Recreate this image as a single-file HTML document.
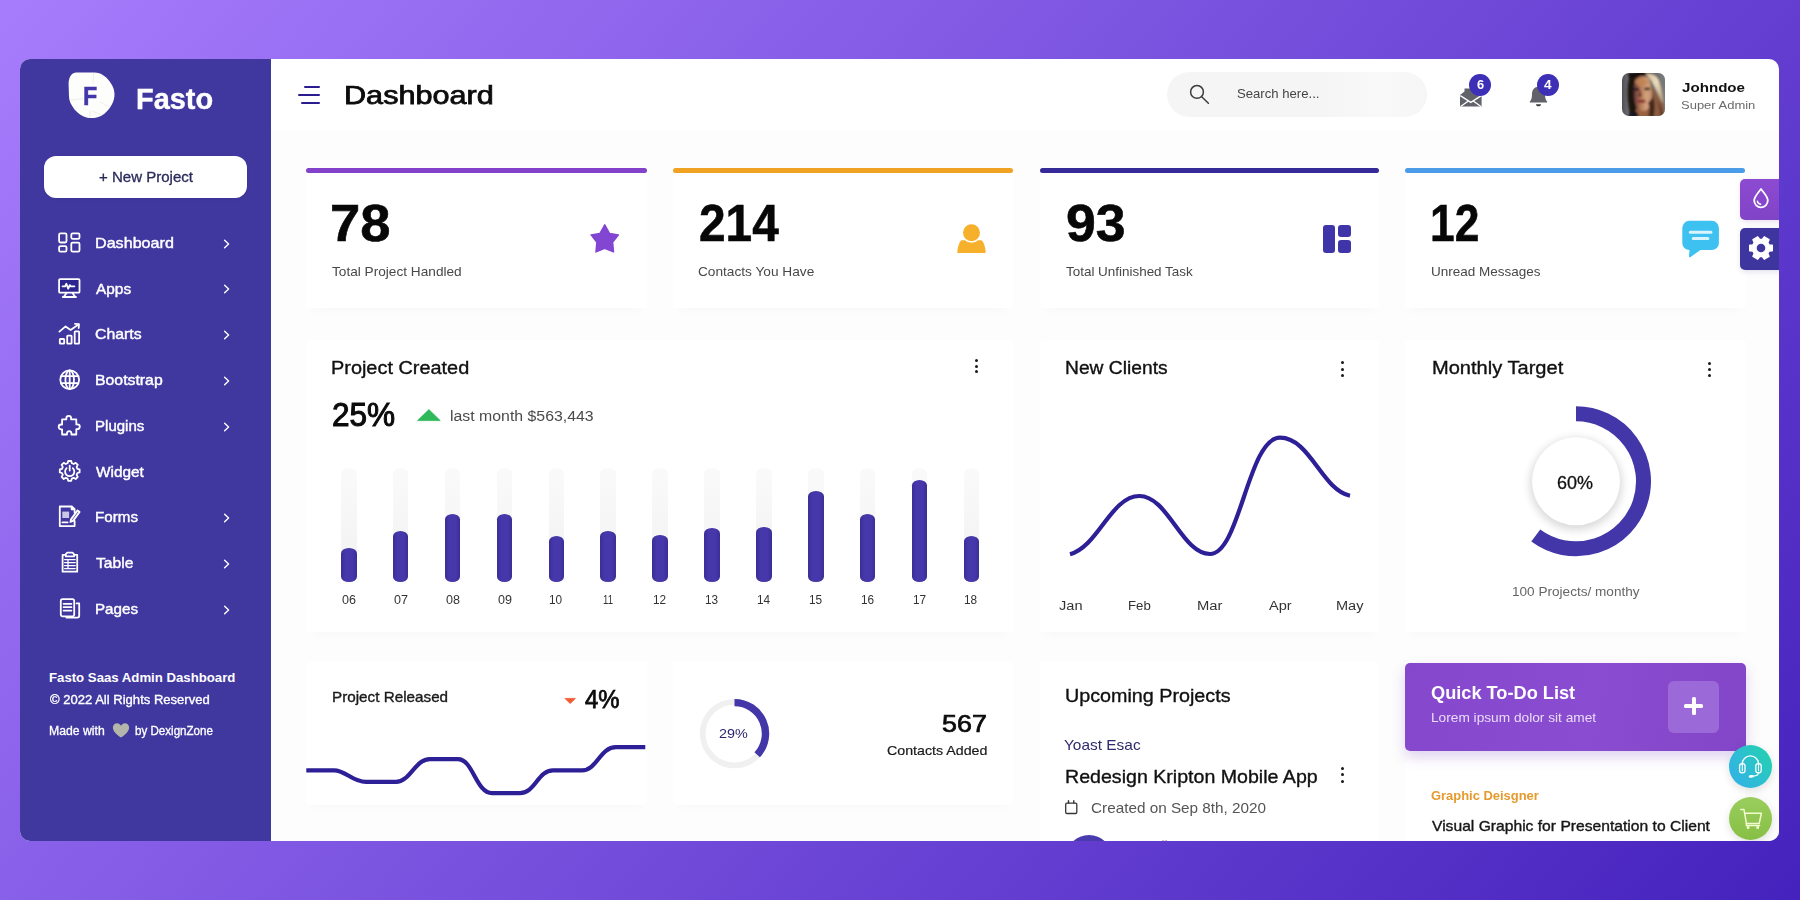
<!DOCTYPE html>
<html lang="en">
<head>
<meta charset="utf-8">
<title>Fasto - Dashboard</title>
<style>
*{margin:0;padding:0;box-sizing:border-box}
html,body{width:1800px;height:900px;overflow:hidden}
body{position:relative;font-family:"Liberation Sans",sans-serif;background:linear-gradient(132deg,#a77cfc 0%,#4522bd 100%)}
#win{position:absolute;left:20px;top:59px;width:1759px;height:782px;border-radius:10px;overflow:hidden;background:#fff}
#in{position:absolute;left:-20px;top:-59px;width:1800px;height:900px}
#in div,#in span,#in svg{position:absolute}
.t{white-space:nowrap;line-height:1;transform-origin:0 0;font-family:"Liberation Sans",sans-serif}
#side{left:20px;top:59px;width:250.5px;height:782px;background:#40389f}
.ico{fill:none;stroke:#fff;stroke-width:1.8;stroke-linecap:round;stroke-linejoin:round}
.chev{fill:none;stroke:#fff;stroke-width:1.4;stroke-linecap:round;stroke-linejoin:round}
.dots i{position:absolute;left:0;width:3px;height:3px;border-radius:50%;background:#1a1a1a}
.bar{border-radius:3px;height:5.4px;top:168.1px}
.trk{width:15.6px;border-radius:7.8px/5.5px;background:linear-gradient(180deg,#fafafa,#f1f1f1)}
.bv{width:15.6px;border-radius:7.8px/5.5px;background:linear-gradient(90deg,#3a2e98 0%,#4638aa 30%,#4638aa 70%,#3a2e98 100%)}
</style>
</head>
<body>
<div id="win">
<div id="in">
<!-- ===== sidebar ===== -->
<div style="left:270.5px;top:131px;width:1510px;height:712px;background:#fdfdfd"></div>
<div id="side"></div>
<svg style="left:66px;top:70px" width="52" height="52" viewBox="0 0 52 52">
  <path d="M9.9 2.6 L28.5 2.6 C35 2.6 41.5 7.5 45 13.6 C47.5 17.5 48.5 21 48.5 24.6 C48.5 31 45 38.5 38.1 43.9 C34 47 29.5 48.1 25 48.1 C19 48.1 13 44.5 8.5 39.5 C5 35 3.1 30.8 3 27.1 L2.6 14.7 C2.5 8.5 4.6 3.1 9.9 2.6 Z" fill="#fdfdfb"/>
  <path d="M27.8 3 C28 8 26.6 11 27.2 14.5 M5 30 C9 30 13 28.4 17.5 28.8 M34 31.8 C37 33.5 40.5 36.5 43.5 37 M24.4 40.8 C24.2 44 23.4 46 23.2 48 M26.5 41.5 C30 42.4 33 43.6 35.5 44.8" fill="none" stroke="#e9e8e3" stroke-width="0.8"/>
</svg>
<div style="left:43.8px;top:156.3px;width:203.6px;height:41.6px;border-radius:12px;background:#fff;box-shadow:0 1px 3px rgba(20,10,80,.12)"></div>

<!-- nav icons -->
<svg class="ico" style="left:56px;top:230px" width="27" height="25" viewBox="56 230 27 25">
  <rect x="59.1" y="233.3" width="7.4" height="9.2" rx="1.4"/><rect x="71.3" y="233.3" width="8.2" height="5.6" rx="1.4"/>
  <rect x="59.1" y="246.1" width="7.4" height="5.6" rx="1.4"/><rect x="71.3" y="242.6" width="8.2" height="9.1" rx="1.4"/>
</svg>
<svg class="ico" style="left:56px;top:275px" width="27" height="26" viewBox="56 275 27 26">
  <rect x="59.1" y="279.1" width="20.4" height="13.6" rx="1" fill="#2d2690"/>
  <path d="M62.5 286.3 h2.6 l1.3 -2.6 l1.8 5 l1.6 -3.6 l1 1.2 h3.6"/>
  <path d="M66.5 293 l-2.6 3.8 M72.5 293 l2.6 3.8 M62.8 297 h13.2"/>
</svg>
<svg class="ico" style="left:56px;top:320px" width="27" height="27" viewBox="56 320 27 27">
  <rect x="59.8" y="339" width="4.4" height="4.6" rx=".6"/><rect x="67.2" y="335.6" width="4.4" height="8" rx=".6"/><rect x="74.7" y="331.3" width="4.4" height="12.3" rx=".6"/>
  <path d="M59.4 331.6 L65.6 326.4 L70.6 329.9 L78.8 324.3 M75 323.9 L79 324.1 L78.7 328"/>
</svg>
<svg class="ico" style="left:56px;top:366px" width="27" height="27" viewBox="56 366 27 27">
  <circle cx="69.7" cy="379.7" r="9.4"/><ellipse cx="69.7" cy="379.7" rx="4.3" ry="9.4"/>
  <path d="M61.4 376.2 h16.6 M61.4 383.2 h16.6 M69.7 370.3 v18.8"/>
</svg>
<svg class="ico" style="left:56px;top:412px" width="27" height="27" viewBox="56 412 27 27">
  <path d="M66.3 419.4 v-1.1 a2.4 2.4 0 1 1 4.8 0 v1.1 h5.2 v5 h1.1 a2.4 2.4 0 1 1 0 4.8 h-1.1 v5.3 h-4.9 v-1.2 a2.2 2.2 0 1 0 -4.4 0 v1.2 h-4.9 v-5.2 h-1 a2.4 2.4 0 1 1 0 -4.8 h1 v-5.1 z"/>
</svg>
<svg class="ico" style="left:56px;top:457px" width="28" height="28" viewBox="56 457 28 28">
  <path d="M68.2 461 h3 l.6 2.2 l1.9 .8 l2 -1.2 l2.1 2.1 l-1.2 2 l.8 1.9 l2.2 .6 v3 l-2.2 .6 l-.8 1.9 l1.2 2 l-2.1 2.1 l-2 -1.2 l-1.9 .8 l-.6 2.2 h-3 l-.6 -2.2 l-1.9 -.8 l-2 1.2 l-2.1 -2.1 l1.2 -2 l-.8 -1.9 l-2.2 -.6 v-3 l2.2 -.6 l.8 -1.9 l-1.2 -2 l2.1 -2.1 l2 1.2 l1.9 -.8 z"/>
  <path d="M66.6 468.2 a4.6 4.6 0 1 0 6.2 0 M69.7 465.6 v5"/>
</svg>
<svg class="ico" style="left:56px;top:503px" width="28" height="27" viewBox="56 503 28 27">
  <path d="M74.6 512.5 v-3.4 l-2.8 -2.6 h-12 v19.6 h14.8 v-5.2 M71.6 506.7 v2.6 h2.8"/>
  <rect x="62.3" y="511.6" width="6.8" height="6.4" fill="#c9c7e6" stroke="none"/>
  <path d="M62.4 522.4 h5.2 M71 519.4 l6.6 -9 l2 1.5 l-6.6 9 l-2.6 1 z"/>
</svg>
<svg class="ico" style="left:58px;top:549px" width="24" height="27" viewBox="58 549 24 27">
  <path d="M65.8 554.8 h-3.2 v16.9 h14.6 v-16.9 h-3.2 M65.8 556.4 v-2.2 l1.5 -1.5 h5.2 l1.5 1.5 v2.2 z" />
  <path d="M64.6 559.6 h10.6 M64.6 562.6 h10.6 M64.6 565.6 h10.6 M64.6 568.6 h10.6 M68 559.6 v9" stroke-width="1.3"/>
</svg>
<svg class="ico" style="left:57px;top:595px" width="26" height="26" viewBox="57 595 26 26">
  <path d="M62.6 599.2 h9.8 a1.8 1.8 0 0 1 1.8 1.8 v13.6 a1.8 1.8 0 0 1 -1.8 1.8 h-9.8 a1.8 1.8 0 0 1 -1.8 -1.8 v-13.6 a1.8 1.8 0 0 1 1.8 -1.8 z"/>
  <path d="M63.6 603.8 h7.8 M63.6 607.2 h7.8 M63.6 610.6 h7.8" />
  <path d="M76.6 603.4 h2.6 v12.4 a1.8 1.8 0 0 1 -1.8 1.8 h-11"/>
</svg>
<!-- heart -->
<svg style="left:112px;top:722px" width="18" height="17" viewBox="0 0 18 17"><path d="M9 15.6 C3.2 11.4 .9 8.4 .9 5.4 C.9 2.9 2.8 1.2 5 1.2 C6.7 1.2 8.1 2.2 9 3.7 C9.9 2.2 11.3 1.2 13 1.2 C15.2 1.2 17.1 2.9 17.1 5.4 C17.1 8.4 14.8 11.4 9 15.6 Z" fill="#b4b6ab"/></svg>
<svg class="chev" style="left:220px;top:236.70px" width="14" height="14" viewBox="0 0 14 14"><path d="M4.6 3.3 L8.6 7 L4.6 10.7"/></svg>
<svg class="chev" style="left:220px;top:282.45px" width="14" height="14" viewBox="0 0 14 14"><path d="M4.6 3.3 L8.6 7 L4.6 10.7"/></svg>
<svg class="chev" style="left:220px;top:328.20px" width="14" height="14" viewBox="0 0 14 14"><path d="M4.6 3.3 L8.6 7 L4.6 10.7"/></svg>
<svg class="chev" style="left:220px;top:373.95px" width="14" height="14" viewBox="0 0 14 14"><path d="M4.6 3.3 L8.6 7 L4.6 10.7"/></svg>
<svg class="chev" style="left:220px;top:419.70px" width="14" height="14" viewBox="0 0 14 14"><path d="M4.6 3.3 L8.6 7 L4.6 10.7"/></svg>
<svg class="chev" style="left:220px;top:511.20px" width="14" height="14" viewBox="0 0 14 14"><path d="M4.6 3.3 L8.6 7 L4.6 10.7"/></svg>
<svg class="chev" style="left:220px;top:556.95px" width="14" height="14" viewBox="0 0 14 14"><path d="M4.6 3.3 L8.6 7 L4.6 10.7"/></svg>
<svg class="chev" style="left:220px;top:602.70px" width="14" height="14" viewBox="0 0 14 14"><path d="M4.6 3.3 L8.6 7 L4.6 10.7"/></svg>
<!-- ===== header ===== -->
<div style="left:303.7px;top:86.3px;width:16.3px;height:2.1px;background:#2a1c8e;border-radius:1px"></div>
<div style="left:298px;top:94.2px;width:22px;height:2.1px;background:#2a1c8e;border-radius:1px"></div>
<div style="left:301px;top:102px;width:19px;height:2.1px;background:#2a1c8e;border-radius:1px"></div>
<div style="left:1166.7px;top:71.7px;width:260px;height:45.8px;border-radius:23px;background:linear-gradient(90deg,#f5f5f5 0%,#f5f5f5 62%,#f9f9f9 82%,#f6f6f6 100%)"></div>
<svg style="left:1186px;top:81px" width="28" height="28" viewBox="1186 81 28 28"><circle cx="1197" cy="91.9" r="6.4" fill="none" stroke="#3c3c3c" stroke-width="1.5"/><path d="M1201.7 96.8 L1208.4 103.2" stroke="#3c3c3c" stroke-width="1.5" stroke-linecap="round"/></svg>
<!-- envelope -->
<svg style="left:1456px;top:84px" width="30" height="26" viewBox="1456 84 30 26">
  <path d="M1460 95 L1464.5 91.6 V88.6 H1477 V91.6 L1481.6 95 V106.4 H1460 Z" fill="#62626a"/>
  <path d="M1460.3 95.6 L1470.8 102.4 L1481.3 95.6" fill="none" stroke="#fff" stroke-width="1.3"/>
  <path d="M1460.6 106.6 L1468.4 100.9 M1481 106.6 L1473.2 100.9" fill="none" stroke="#fff" stroke-width="1.3"/>
</svg>
<!-- bell -->
<svg style="left:1526px;top:84px" width="26" height="26" viewBox="1526 84 26 26">
  <path d="M1538.5 86.8 C1534.3 86.8 1532 90 1532 94.2 C1532 98.2 1531.2 100 1529.8 101.6 V102.4 H1547.2 V101.6 C1545.8 100 1545 98.2 1545 94.2 C1545 90 1542.7 86.8 1538.5 86.8 Z" fill="#62626a"/>
  <path d="M1536 104.2 H1541 C1541 105.5 1539.9 106.3 1538.5 106.3 C1537.1 106.3 1536 105.5 1536 104.2 Z" fill="#3a3a40"/>
</svg>
<div style="left:1469.3px;top:74.1px;width:21.8px;height:21.8px;border-radius:50%;background:#3d2fb6"></div>
<div style="left:1537.1px;top:74.1px;width:21.8px;height:21.8px;border-radius:50%;background:#3d2fb6"></div>
<!-- avatar -->
<svg style="left:1621.8px;top:72.7px" width="43" height="43" viewBox="0 0 43 43">
  <defs>
    <clipPath id="avc"><rect x="0" y="0" width="43" height="43" rx="7"/></clipPath>
    <linearGradient id="avbg" x1="0" x2="1" y1="0" y2="0"><stop offset="0" stop-color="#505056"/><stop offset=".14" stop-color="#6b6b71"/><stop offset=".3" stop-color="#4a4a50"/><stop offset="1" stop-color="#7a7a7a"/></linearGradient>
    <linearGradient id="avface" x1="0" x2="1" y1="0" y2="0"><stop offset="0" stop-color="#5c3238"/><stop offset=".38" stop-color="#b67a56"/><stop offset=".7" stop-color="#d3a27e"/><stop offset="1" stop-color="#c4906c"/></linearGradient>
    <linearGradient id="avblonde" x1="0" x2="1" y1="0" y2="1"><stop offset="0" stop-color="#d9c09a"/><stop offset=".45" stop-color="#eadbbb"/><stop offset="1" stop-color="#b89872"/></linearGradient>
    <filter id="avb" x="-20%" y="-20%" width="140%" height="140%"><feGaussianBlur stdDeviation="1.15"/></filter>
  </defs>
  <g clip-path="url(#avc)">
    <rect width="43" height="43" fill="url(#avbg)"/>
    <g filter="url(#avb)">
      <path d="M37 -1 L44 -1 L44 24 C42 14 40 6 37 -1 Z" fill="#787878"/>
      <path d="M9 44 C5.5 32 4.5 14 7.5 3 C9 -1 16 -2 24 -1 L27 2 C19 4 15 8 14 16 C13 26 14 36 17 44 Z" fill="#1c1210"/>
      <path d="M12.6 8 C14 3 22 2 26.5 5 C29.5 10 30.5 20 29.5 28 C28.5 34 25.5 38 21 38.6 C16 38.6 13 33 12.2 26 C11.6 20 11.6 12 12.6 8 Z" fill="url(#avface)"/>
      <ellipse cx="19.5" cy="9" rx="6.5" ry="4" fill="#c08454" opacity=".8"/>
      <path d="M6 0 H30 V2.2 C22 1.6 14 2.4 7 4.4 Z" fill="#140c0a"/>
      <ellipse cx="14.8" cy="16.4" rx="2.8" ry="1.4" fill="#2b1524"/>
      <ellipse cx="25.2" cy="15.9" rx="3.1" ry="1.3" fill="#3a2515"/>
      <path d="M18.2 16.5 L19.8 23.6 L16.2 23.8 Z" fill="#5c3028"/>
      <ellipse cx="19.6" cy="28.3" rx="4.3" ry="1.7" fill="#8b3039"/>
      <path d="M14 35.5 C18 39 24 39 27.5 34.5 L30 44 L13 44 Z" fill="#99623f"/>
      <path d="M23 .8 C29 -.2 35 2 37.2 8 C40 16 41.2 24 41.4 31 C38 26 35 18 31 11 C29 7 26 3 23 .8 Z" fill="url(#avblonde)"/>
      <path d="M26 30 C28 34 27 40 26 44 L33 44 L31 24 Z" fill="#4a2a1e"/>
      <path d="M29.2 11.5 C33 18 37 26 41.4 31 L43 44 L27 44 C30 38 31.2 30 30.4 22 C30 18 29.6 15 29.2 11.5 Z" fill="#8b5b41"/>
      <path d="M30.4 21 C33 28 33 36 31.4 44 L28 44 C30 36 31 28 30.4 21 Z" fill="#3a2018"/>
      <path d="M35 27 C37.5 33 38.5 38 38.5 44 L41.5 44 C41 38 39 32 35 27 Z" fill="#5a3424"/>
      <path d="M6 44 C8 38.5 12.5 37.5 15.5 39.5 L16.5 44 Z" fill="#15131d"/>
    </g>
  </g>
</svg>
<!-- ===== stat cards ===== -->
<div style="left:306px;top:168px;width:341px;height:140px;border-radius:4px;background:#fff;box-shadow:0 9px 10px -6px rgba(0,0,0,.022)"></div>
<div style="left:673px;top:168px;width:340px;height:140px;border-radius:4px;background:#fff;box-shadow:0 9px 10px -6px rgba(0,0,0,.022)"></div>
<div style="left:1040px;top:168px;width:339px;height:140px;border-radius:4px;background:#fff;box-shadow:0 9px 10px -6px rgba(0,0,0,.022)"></div>
<div style="left:1405px;top:168px;width:341px;height:140px;border-radius:4px;background:#fff;box-shadow:0 9px 10px -6px rgba(0,0,0,.022)"></div>
<div class="bar" style="left:305.8px;width:341px;background:#8242c9"></div>
<div class="bar" style="left:672.7px;width:340.6px;background:#f0a223"></div>
<div class="bar" style="left:1039.6px;width:339.2px;background:#352a98"></div>
<div class="bar" style="left:1405.3px;width:340.2px;background:#4a9be8"></div>
<!-- star -->
<svg style="left:588px;top:221px" width="34" height="35" viewBox="588 221 34 35"><path d="M604.75 224.9 L609.6 233.5 L618.4 234.9 L612.6 242.3 L613.5 251.9 L604.75 248.4 L596 251.9 L596.9 242.3 L591.1 234.9 L599.9 233.5 Z" fill="#8246d2" stroke="#8246d2" stroke-width="1.5" stroke-linejoin="round"/></svg>
<!-- person -->
<svg style="left:954px;top:222px" width="36" height="34" viewBox="954 222 36 34">
  <path d="M958.4 253.1 Q957.1 253.1 957.3 251.8 C957.9 246.4 959 242.6 961.3 240.2 H981.7 C984 242.6 985.1 246.4 985.7 251.8 Q985.9 253.1 984.6 253.1 Z" fill="#f6b02c"/>
  <circle cx="971.5" cy="232.7" r="10.1" fill="#fff"/><circle cx="971.5" cy="232.7" r="8.5" fill="#f6b02c"/>
</svg>
<!-- grid icon -->
<div style="left:1323.3px;top:224.7px;width:11.9px;height:28px;border-radius:3px;background:#4035a8"></div>
<div style="left:1338.4px;top:224.7px;width:13.1px;height:12.8px;border-radius:3px;background:#4035a8"></div>
<div style="left:1338.4px;top:239.9px;width:13.1px;height:12.8px;border-radius:3px;background:#4035a8"></div>
<!-- chat -->
<svg style="left:1680px;top:219px" width="42" height="42" viewBox="1680 219 42 42">
  <path d="M1689.4 220.8 H1711.8 A7.1 7.1 0 0 1 1718.9 227.9 V243 A7.1 7.1 0 0 1 1711.8 250.1 H1700.4 L1690.6 256.9 C1689.7 257.5 1688.9 257 1689 256 L1689.5 250.1 H1689.4 A7.1 7.1 0 0 1 1682.3 243 V227.9 A7.1 7.1 0 0 1 1689.4 220.8 Z" fill="#3dc1f1"/>
  <path d="M1690.2 232.3 H1711 M1693.2 238.6 H1707.9" stroke="#d9f4fd" stroke-width="3" stroke-linecap="round"/>
</svg>
<!-- ===== middle row ===== -->
<div style="left:306px;top:340px;width:708px;height:292px;border-radius:4px;background:#fff;box-shadow:0 9px 10px -6px rgba(0,0,0,.022)"></div>
<div style="left:1040px;top:340px;width:339px;height:292px;border-radius:4px;background:#fff;box-shadow:0 9px 10px -6px rgba(0,0,0,.022)"></div>
<div style="left:1405px;top:340px;width:341px;height:292px;border-radius:4px;background:#fff;box-shadow:0 9px 10px -6px rgba(0,0,0,.022)"></div>
<div class="dots" style="left:975.3px;top:358.7px"><i style="top:0"></i><i style="top:5.9px"></i><i style="top:11.8px"></i></div>
<div class="dots" style="left:1340.6px;top:361.3px"><i style="top:0"></i><i style="top:6.3px"></i><i style="top:12.6px"></i></div>
<div class="dots" style="left:1707.8px;top:361.6px"><i style="top:0"></i><i style="top:6.3px"></i><i style="top:12.6px"></i></div>
<svg style="left:415px;top:407px" width="28" height="16" viewBox="415 407 28 16"><path d="M417.6 420.6 L428.9 409.6 L440.2 420.6 Z" fill="#2fb95a" stroke="#2fb95a" stroke-width=".8" stroke-linejoin="round"/></svg>
<div class="trk" style="left:341.00px;top:467.6px;height:114.0px"></div><div class="bv" style="left:341.00px;top:548px;height:33.6px"></div>
<div class="trk" style="left:392.88px;top:467.6px;height:114.0px"></div><div class="bv" style="left:392.88px;top:531px;height:50.6px"></div>
<div class="trk" style="left:444.76px;top:467.6px;height:114.0px"></div><div class="bv" style="left:444.76px;top:514px;height:67.6px"></div>
<div class="trk" style="left:496.64px;top:467.6px;height:114.0px"></div><div class="bv" style="left:496.64px;top:514px;height:67.6px"></div>
<div class="trk" style="left:548.52px;top:467.6px;height:114.0px"></div><div class="bv" style="left:548.52px;top:536.4px;height:45.2px"></div>
<div class="trk" style="left:600.40px;top:467.6px;height:114.0px"></div><div class="bv" style="left:600.40px;top:531px;height:50.6px"></div>
<div class="trk" style="left:652.28px;top:467.6px;height:114.0px"></div><div class="bv" style="left:652.28px;top:535.4px;height:46.2px"></div>
<div class="trk" style="left:704.16px;top:467.6px;height:114.0px"></div><div class="bv" style="left:704.16px;top:528.4px;height:53.2px"></div>
<div class="trk" style="left:756.04px;top:467.6px;height:114.0px"></div><div class="bv" style="left:756.04px;top:527.4px;height:54.2px"></div>
<div class="trk" style="left:807.92px;top:467.6px;height:114.0px"></div><div class="bv" style="left:807.92px;top:491px;height:90.6px"></div>
<div class="trk" style="left:859.80px;top:467.6px;height:114.0px"></div><div class="bv" style="left:859.80px;top:514px;height:67.6px"></div>
<div class="trk" style="left:911.68px;top:467.6px;height:114.0px"></div><div class="bv" style="left:911.68px;top:479.6px;height:102.0px"></div>
<div class="trk" style="left:963.56px;top:467.6px;height:114.0px"></div><div class="bv" style="left:963.56px;top:536.4px;height:45.2px"></div>
<!-- new clients curve -->
<svg style="left:1055px;top:420px" width="310" height="150" viewBox="1055 420 310 150">
  <path d="M1070 554.3 C1098 547 1111 496 1139.4 496 C1168 496 1182 554 1210 554 C1240 554 1248 437.7 1280 437.7 C1310 437.7 1322 490 1350 495.7" fill="none" stroke="#2d1f96" stroke-width="4.2" stroke-linecap="butt"/>
</svg>
<!-- monthly target donut -->
<svg style="left:1486px;top:391px" width="180" height="180" viewBox="1486 391 180 180">
  <defs><filter id="ds" x="-40%" y="-40%" width="180%" height="180%"><feGaussianBlur stdDeviation="4.2"/></filter></defs>
  <circle cx="1576" cy="484" r="46" fill="#000" opacity=".15" filter="url(#ds)"/>
  <circle cx="1576" cy="481.3" r="44" fill="#fff"/>
  <path d="M1576 413.8 A67.5 67.5 0 1 1 1535.76 535.5" fill="none" stroke="#4236a8" stroke-width="15"/>
</svg>
<!-- ===== bottom row ===== -->
<div style="left:306px;top:662px;width:341px;height:143px;border-radius:4px;background:#fff;box-shadow:0 9px 10px -6px rgba(0,0,0,.022)"></div>
<div style="left:673px;top:662px;width:340px;height:143px;border-radius:4px;background:#fff;box-shadow:0 9px 10px -6px rgba(0,0,0,.022)"></div>
<svg style="left:562px;top:696px" width="16" height="10" viewBox="562 696 16 10"><path d="M565 698.4 H575.4 L570.2 703.6 Z" fill="#f15b34" stroke="#f15b34" stroke-width=".8" stroke-linejoin="round"/></svg>
<svg style="left:300px;top:735px" width="352" height="70" viewBox="300 735 352 70">
  <path d="M306.3 770.3 H334 C346 770.3 352 781.9 366 781.9 H396 C410 781.9 415 759.1 430 759.1 H458 C473 759.1 476 793.1 492 793.1 H520 C535 793.1 538 770.3 553 770.3 H582 C597 770.3 600 747.1 616 747.1 H645.3" fill="none" stroke="#2d1f96" stroke-width="4.2" stroke-linejoin="round"/>
</svg>
<!-- 29% ring -->
<svg style="left:694px;top:693px" width="82" height="82" viewBox="694 693 82 82">
  <circle cx="734.5" cy="733.6" r="31.8" fill="none" stroke="#f0f0f0" stroke-width="5.8"/>
  <path d="M734.5 702.6 A31 31 0 0 1 757.17 754.74" fill="none" stroke="#4236a8" stroke-width="7.4"/>
</svg>
<!-- upcoming projects -->
<div style="left:1040px;top:662px;width:339px;height:200px;border-radius:4px;background:#fff"></div>
<div style="left:1405px;top:760px;width:341px;height:100px;border-radius:4px;background:#fff"></div>
<div class="dots" style="left:1340.9px;top:766.9px"><i style="top:0"></i><i style="top:6.5px"></i><i style="top:13px"></i></div>
<svg style="left:1063px;top:798px" width="18" height="19" viewBox="1063 798 18 19"><rect x="1065.7" y="803.1" width="11.1" height="10.4" rx="1.2" fill="none" stroke="#3a3434" stroke-width="1.3"/><path d="M1068.5 800.8 V803 M1073.8 800.8 V803" stroke="#3a3434" stroke-width="1.4" stroke-linecap="round"/></svg>
<div style="left:1066.3px;top:834.7px;width:46px;height:46px;border-radius:50%;background:linear-gradient(180deg,#4a3db0,#352a98)"></div>
<div style="left:1162px;top:839.8px;width:1.6px;height:2px;background:#c9b8c4;transform:skewX(-12deg)"></div>
<div style="left:1165.4px;top:839.8px;width:1.6px;height:2px;background:#c9b8c4;transform:skewX(-12deg)"></div>
<!-- todo card -->
<div style="left:1405px;top:662.9px;width:340.7px;height:88.2px;border-radius:5px;background:linear-gradient(100deg,#8548cc 0%,#8a4cd0 55%,#8446c8 100%);box-shadow:0 6px 14px rgba(110,60,190,.22)"></div>
<div style="left:1667.9px;top:681.1px;width:51.5px;height:51.6px;border-radius:6px;background:#9c69d9"></div>
<div style="left:1684.3px;top:703.7px;width:19.1px;height:4.4px;border-radius:1.5px;background:#fff"></div>
<div style="left:1691.65px;top:696.7px;width:4.4px;height:18.4px;border-radius:1.5px;background:#fff"></div>
<!-- floating buttons -->
<div style="left:1728.8px;top:745px;width:43.2px;height:43px;border-radius:50%;background:linear-gradient(55deg,#33aee9 0%,#2cc0d0 50%,#22d3a7 100%);box-shadow:0 3px 8px rgba(0,0,0,.12)"></div>
<svg style="left:1736px;top:753.4px" width="30" height="30" viewBox="1736 752 30 30" fill="none" stroke="#fff" stroke-width="1.3" stroke-linecap="round">
  <path d="M1742.2 764 V763 A8.2 8.2 0 0 1 1758.6 763 V764"/>
  <rect x="1739.6" y="762.6" width="5.4" height="9.2" rx="2.4"/><rect x="1755.8" y="762.6" width="5.4" height="9.2" rx="2.4"/>
  <path d="M1742.3 764.6 V769.8 M1758.5 764.6 V769.8" stroke-width="1.1"/>
  <path d="M1758.6 771.8 C1758.4 774 1756.4 775 1753.4 775.2"/><ellipse cx="1751.2" cy="775.4" rx="2.6" ry="1.4" fill="#fff" stroke="none" transform="rotate(-8 1751.2 775.4)"/>
</svg>
<div style="left:1728.8px;top:797px;width:43.2px;height:43px;border-radius:50%;background:linear-gradient(180deg,#9acd5e,#86bf45);box-shadow:0 3px 8px rgba(0,0,0,.12)"></div>
<svg style="left:1736.6px;top:806.2px" width="30" height="28" viewBox="1736 805 30 28" fill="none" stroke="#f4fbd0" stroke-width="1.5" stroke-linecap="round" stroke-linejoin="round">
  <path d="M1739.8 808.6 H1743 L1745.4 822.4 H1758.2 L1760.4 812.2 H1744"/>
  <path d="M1745.4 822.4 V824.6 H1758.6"/><rect x="1745.8" y="825.2" width="2.6" height="2.6" fill="#f4fbd0" stroke="none"/><rect x="1755.4" y="825.2" width="2.6" height="2.6" fill="#f4fbd0" stroke="none"/>
</svg>
<!-- right side tabs -->
<div style="left:1739.7px;top:178.5px;width:42px;height:41.7px;border-radius:5px 0 0 5px;background:linear-gradient(180deg,#8d4ad2,#8044c6);box-shadow:0 2px 5px rgba(90,40,160,.12)"></div>
<svg style="left:1749.9px;top:186.2px" width="22" height="24" viewBox="0 0 22 24"><path d="M11 3 C8 7.2 4.2 10.6 4.2 14.6 A6.8 6.8 0 0 0 17.8 14.6 C17.8 10.6 14 7.2 11 3 Z" fill="none" stroke="#fff" stroke-width="1.8" stroke-linejoin="round"/><path d="M7.4 15.2 A3.7 3.7 0 0 0 10.6 18.3" fill="none" stroke="#fff" stroke-width="1.5" stroke-linecap="round"/></svg>
<div style="left:1739.7px;top:228.1px;width:42px;height:41.5px;border-radius:5px 0 0 5px;background:#3f359f;box-shadow:0 2px 5px rgba(40,30,120,.12)"></div>
<svg style="left:1748.1px;top:235px" width="26" height="26" viewBox="-13 -13 26 26">
  <path fill="#fff" stroke="#fff" stroke-width="1.5" stroke-linejoin="round" d="M1.35 -8.49 L3.29 -11.12 L7.98 -8.41 L6.68 -5.41 L8.03 -3.08 L11.28 -2.71 L11.28 2.71 L8.03 3.08 L6.68 5.41 L7.98 8.41 L3.29 11.12 L1.35 8.49 L-1.35 8.49 L-3.29 11.12 L-7.98 8.41 L-6.68 5.41 L-8.03 3.08 L-11.28 2.71 L-11.28 -2.71 L-8.03 -3.08 L-6.68 -5.41 L-7.98 -8.41 L-3.29 -11.12 L-1.35 -8.49 Z"/>
  <circle cx="0" cy="0" r="4.3" fill="#3f359f"/>
</svg>

<!-- ===== text ===== -->
<span class="t" style="left:83.42px;top:82.97px;font-size:26.5px;color:#4336a8;font-weight:700;-webkit-text-stroke:0.5px #4336a8;transform:scaleX(0.8800);">F</span>
<span class="t" style="left:135.57px;top:83.50px;font-size:30px;color:#ffffff;font-weight:700;-webkit-text-stroke:0.4px #ffffff;transform:scaleX(0.9636);">Fasto</span>
<span class="t" style="left:98.66px;top:170.38px;font-size:14.5px;color:#2b2a5c;-webkit-text-stroke:0.3px #2b2a5c;transform:scaleX(1.0367);">+ New Project</span>
<span class="t" style="left:94.67px;top:235.84px;font-size:14.3px;color:#ffffff;-webkit-text-stroke:0.4px #ffffff;transform:scaleX(1.1279);">Dashboard</span>
<span class="t" style="left:95.80px;top:281.60px;font-size:14.3px;color:#ffffff;-webkit-text-stroke:0.4px #ffffff;transform:scaleX(1.0781);">Apps</span>
<span class="t" style="left:94.69px;top:327.35px;font-size:14.3px;color:#ffffff;-webkit-text-stroke:0.4px #ffffff;transform:scaleX(1.1073);">Charts</span>
<span class="t" style="left:94.69px;top:373.10px;font-size:14.3px;color:#ffffff;-webkit-text-stroke:0.4px #ffffff;transform:scaleX(1.1067);">Bootstrap</span>
<span class="t" style="left:94.75px;top:418.85px;font-size:14.3px;color:#ffffff;-webkit-text-stroke:0.4px #ffffff;transform:scaleX(1.0522);">Plugins</span>
<span class="t" style="left:95.80px;top:464.60px;font-size:14.3px;color:#ffffff;-webkit-text-stroke:0.4px #ffffff;transform:scaleX(1.0756);">Widget</span>
<span class="t" style="left:94.74px;top:510.35px;font-size:14.3px;color:#ffffff;-webkit-text-stroke:0.4px #ffffff;transform:scaleX(1.0615);">Forms</span>
<span class="t" style="left:95.80px;top:556.10px;font-size:14.3px;color:#ffffff;-webkit-text-stroke:0.4px #ffffff;transform:scaleX(1.0941);">Table</span>
<span class="t" style="left:94.74px;top:601.85px;font-size:14.3px;color:#ffffff;-webkit-text-stroke:0.4px #ffffff;transform:scaleX(1.0615);">Pages</span>
<span class="t" style="left:49.00px;top:671.28px;font-size:13.2px;color:#ffffff;font-weight:700;">Fasto Saas Admin Dashboard</span>
<span class="t" style="left:50.00px;top:692.58px;font-size:13.2px;color:#ffffff;-webkit-text-stroke:0.35px #ffffff;transform:scaleX(0.9894);">© 2022 All Rights Reserved</span>
<span class="t" style="left:48.98px;top:724.60px;font-size:12px;color:#ffffff;-webkit-text-stroke:0.3px #ffffff;transform:scaleX(1.0189);">Made with</span>
<span class="t" style="left:135.03px;top:724.60px;font-size:12px;color:#ffffff;-webkit-text-stroke:0.3px #ffffff;transform:scaleX(0.9658);">by DexignZone</span>
<span class="t" style="left:343.85px;top:82.55px;font-size:25px;color:#0c0c0c;-webkit-text-stroke:0.75px #0c0c0c;transform:scaleX(1.2244);">Dashboard</span>
<span class="t" style="left:1236.51px;top:87.19px;font-size:13.3px;color:#444;transform:scaleX(0.9877);">Search here...</span>
<span class="t" style="left:1476.60px;top:79.28px;font-size:12.5px;color:#ffffff;font-weight:700;transform:scaleX(1.0286);">6</span>
<span class="t" style="left:1544.20px;top:79.28px;font-size:12.5px;color:#ffffff;font-weight:700;transform:scaleX(1.0857);">4</span>
<span class="t" style="left:1681.69px;top:81.24px;font-size:13.6px;color:#111;font-weight:700;transform:scaleX(1.1127);">Johndoe</span>
<span class="t" style="left:1681.32px;top:100.15px;font-size:11px;color:#6a6a6a;transform:scaleX(1.1803);">Super Admin</span>
<span class="t" style="left:330.13px;top:197.18px;font-size:52.5px;color:#070707;font-weight:700;-webkit-text-stroke:0.6px #070707;transform:scaleX(1.0364);">78</span>
<span class="t" style="left:698.59px;top:197.18px;font-size:52.5px;color:#070707;font-weight:700;-webkit-text-stroke:0.6px #070707;transform:scaleX(0.9115);">214</span>
<span class="t" style="left:1066.28px;top:197.18px;font-size:52.5px;color:#070707;font-weight:700;-webkit-text-stroke:0.6px #070707;transform:scaleX(1.0214);">93</span>
<span class="t" style="left:1430.27px;top:197.18px;font-size:52.5px;color:#070707;font-weight:700;-webkit-text-stroke:0.6px #070707;transform:scaleX(0.8444);">12</span>
<span class="t" style="left:332.20px;top:265.17px;font-size:13.1px;color:#484848;transform:scaleX(1.0419);">Total Project Handled</span>
<span class="t" style="left:697.96px;top:265.17px;font-size:13.1px;color:#484848;transform:scaleX(1.0436);">Contacts You Have</span>
<span class="t" style="left:1066.00px;top:265.17px;font-size:13.1px;color:#484848;transform:scaleX(1.0260);">Total Unfinished Task</span>
<span class="t" style="left:1430.97px;top:265.17px;font-size:13.1px;color:#484848;transform:scaleX(1.0314);">Unread Messages</span>
<span class="t" style="left:330.91px;top:358.94px;font-size:18.3px;color:#111;-webkit-text-stroke:0.35px #111;transform:scaleX(1.0880);">Project Created</span>
<span class="t" style="left:332.04px;top:397.75px;font-size:33px;color:#0b0b0b;-webkit-text-stroke:1.05px #0b0b0b;transform:scaleX(0.9569);">25%</span>
<span class="t" style="left:449.87px;top:408.60px;font-size:14px;color:#4a4a4a;transform:scaleX(1.1320);">last month $563,443</span>
<span class="t" style="left:342.00px;top:594.00px;font-size:12px;color:#333;transform:scaleX(1.0462);">06</span>
<span class="t" style="left:393.88px;top:594.00px;font-size:12px;color:#333;transform:scaleX(1.0462);">07</span>
<span class="t" style="left:445.76px;top:594.00px;font-size:12px;color:#333;transform:scaleX(1.0462);">08</span>
<span class="t" style="left:497.64px;top:594.00px;font-size:12px;color:#333;transform:scaleX(1.0462);">09</span>
<span class="t" style="left:549.44px;top:594.00px;font-size:12px;color:#333;transform:scaleX(0.9833);">10</span>
<span class="t" style="left:603.00px;top:594.00px;font-size:12px;color:#333;transform:scaleX(0.8000);">11</span>
<span class="t" style="left:653.20px;top:594.00px;font-size:12px;color:#333;transform:scaleX(0.9833);">12</span>
<span class="t" style="left:705.08px;top:594.00px;font-size:12px;color:#333;transform:scaleX(0.9833);">13</span>
<span class="t" style="left:756.96px;top:594.00px;font-size:12px;color:#333;transform:scaleX(0.9833);">14</span>
<span class="t" style="left:808.84px;top:594.00px;font-size:12px;color:#333;transform:scaleX(0.9833);">15</span>
<span class="t" style="left:860.72px;top:594.00px;font-size:12px;color:#333;transform:scaleX(0.9833);">16</span>
<span class="t" style="left:912.60px;top:594.00px;font-size:12px;color:#333;transform:scaleX(0.9833);">17</span>
<span class="t" style="left:964.48px;top:594.00px;font-size:12px;color:#333;transform:scaleX(0.9833);">18</span>
<span class="t" style="left:1064.65px;top:359.25px;font-size:18.3px;color:#111;-webkit-text-stroke:0.35px #111;transform:scaleX(1.0521);">New Clients</span>
<span class="t" style="left:1058.75px;top:600.04px;font-size:12.3px;color:#333;transform:scaleX(1.1842);">Jan</span>
<span class="t" style="left:1127.67px;top:600.04px;font-size:12.3px;color:#333;transform:scaleX(1.0750);">Feb</span>
<span class="t" style="left:1196.80px;top:600.04px;font-size:12.3px;color:#333;transform:scaleX(1.2000);">Mar</span>
<span class="t" style="left:1268.75px;top:600.04px;font-size:12.3px;color:#333;transform:scaleX(1.1842);">Apr</span>
<span class="t" style="left:1335.82px;top:600.04px;font-size:12.3px;color:#333;transform:scaleX(1.1818);">May</span>
<span class="t" style="left:1431.60px;top:359.25px;font-size:18.3px;color:#111;-webkit-text-stroke:0.35px #111;transform:scaleX(1.0975);">Monthly Target</span>
<span class="t" style="left:1557.32px;top:474.44px;font-size:18.3px;color:#111;-webkit-text-stroke:0.3px #111;transform:scaleX(0.9829);">60%</span>
<span class="t" style="left:1511.64px;top:586.32px;font-size:12.8px;color:#666;transform:scaleX(1.0613);">100 Projects/ monthy</span>
<span class="t" style="left:331.84px;top:690.36px;font-size:14.4px;color:#1a1a1a;-webkit-text-stroke:0.35px #1a1a1a;transform:scaleX(1.0593);">Project Released</span>
<span class="t" style="left:584.80px;top:687.45px;font-size:25px;color:#0b0b0b;-webkit-text-stroke:0.75px #0b0b0b;transform:scaleX(0.9556);">4%</span>
<span class="t" style="left:718.92px;top:727.40px;font-size:13.3px;color:#2b2270;transform:scaleX(1.0800);">29%</span>
<span class="t" style="left:942.35px;top:713.11px;font-size:23.4px;color:#0b0b0b;-webkit-text-stroke:0.7px #0b0b0b;transform:scaleX(1.1486);">567</span>
<span class="t" style="left:886.68px;top:744.91px;font-size:12.7px;color:#1a1a1a;-webkit-text-stroke:0.2px #1a1a1a;transform:scaleX(1.1205);">Contacts Added</span>
<span class="t" style="left:1064.52px;top:686.95px;font-size:18.3px;color:#111;-webkit-text-stroke:0.35px #111;transform:scaleX(1.0789);">Upcoming Projects</span>
<span class="t" style="left:1064.49px;top:738.68px;font-size:13.9px;color:#2e2a6e;transform:scaleX(1.1104);">Yoast Esac</span>
<span class="t" style="left:1064.55px;top:768.09px;font-size:18.6px;color:#111;-webkit-text-stroke:0.35px #111;transform:scaleX(1.0538);">Redesign Kripton Mobile App</span>
<span class="t" style="left:1090.55px;top:801.17px;font-size:14.5px;color:#555;transform:scaleX(1.0545);">Created on Sep 8th, 2020</span>
<span class="t" style="left:1430.70px;top:684.25px;font-size:18.3px;color:#ffffff;font-weight:700;transform:scaleX(0.9951);">Quick To-Do List</span>
<span class="t" style="left:1430.65px;top:711.05px;font-size:13px;color:#eadcf8;transform:scaleX(1.0532);">Lorem ipsum dolor sit amet</span>
<span class="t" style="left:1430.75px;top:788.94px;font-size:13.6px;color:#e59a2e;font-weight:700;transform:scaleX(0.9518);">Graphic Deisgner</span>
<span class="t" style="left:1432.30px;top:819.27px;font-size:14.5px;color:#161616;-webkit-text-stroke:0.35px #161616;transform:scaleX(1.0787);">Visual Graphic for Presentation to Client</span>
</div>
</div>
</body>
</html>
